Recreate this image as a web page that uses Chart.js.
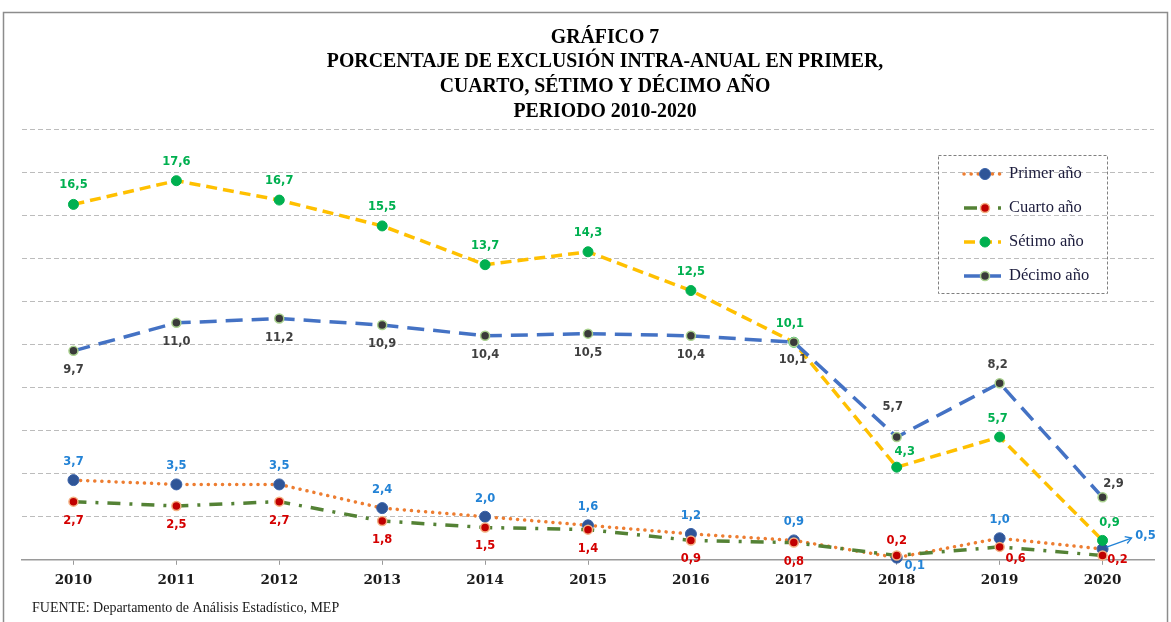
<!DOCTYPE html>
<html lang="es">
<head>
  <meta charset="UTF-8" />
  <title>Gráfico 7</title>
  <script src="https://cdn.jsdelivr.net/npm/chart.js"></script>
  <style>
    html, body {
      margin: 0;
      padding: 0;
      background: #ffffff;
    }
    .wrap {
      width: 1171px;
      height: 622px;
    }
  </style>
</head>
<body>
  <div class="wrap">
    <canvas id="grafico"></canvas>
  </div>

  <script>
    // datos
    const years = ['2010', '2011', '2012', '2013', '2014', '2015', '2016', '2017', '2018', '2019', '2020'];
    const primerAno = [3.7, 3.5, 3.5, 2.4, 2.0, 1.6, 1.2, 0.9, 0.1, 1.0, 0.5];
    const cuartoAno = [2.7, 2.5, 2.7, 1.8, 1.5, 1.4, 0.9, 0.8, 0.2, 0.6, 0.2];
    const setimoAno = [16.5, 17.6, 16.7, 15.5, 13.7, 14.3, 12.5, 10.1, 4.3, 5.7, 0.9];
    const decimoAno = [9.7, 11.0, 11.2, 10.9, 10.4, 10.5, 10.4, 10.1, 5.7, 8.2, 2.9];
    const seriesNames = ['Primer año', 'Cuarto año', 'Sétimo año', 'Décimo año'];

    const titleLines = [
      'GRÁFICO 7',
      'PORCENTAJE DE EXCLUSIÓN INTRA-ANUAL EN PRIMER,',
      'CUARTO, SÉTIMO Y DÉCIMO AÑO',
      'PERIODO 2010-2020'
    ];
    const sourceNote = 'FUENTE: Departamento de Análisis Estadístico, MEP';

    // where each value label sits relative to its point (style only)
    const labelFont = 'bold 11.5px "DejaVu Sans", Verdana, sans-serif';
    const labelStyle = [
      { color: '#2383d6', def: [0, -18], special: { 8: [18, 8], 10: [43, -13, 'arrow'] } },
      { color: '#d40000', def: [0, 19], special: { 8: [0, -14], 9: [16, 12], 10: [15, 5] } },
      { color: '#00b050', def: [0, -19], special: { 7: [-4, -18], 8: [8, -15], 9: [-2, -18], 10: [7, -17] } },
      { color: '#404040', def: [0, 19], special: { 7: [-1, 18], 8: [-4, -30], 9: [-2, -18], 10: [11, -13] } }
    ];

    const fmt = v => v.toFixed(1).replace('.', ',');

    const valueLabels = {
      id: 'valueLabels',
      afterDatasetsDraw(chart) {
        const ctx = chart.ctx;
        ctx.save();
        ctx.font = labelFont;
        ctx.textAlign = 'center';
        ctx.textBaseline = 'middle';
        chart.data.datasets.forEach((ds, i) => {
          const meta = chart.getDatasetMeta(i);
          const st = labelStyle[i];
          meta.data.forEach((pt, j) => {
            const off = st.special[j] || st.def;
            const x = pt.x + off[0];
            const y = pt.y + off[1];
            if (off[2] === 'arrow') {
              ctx.strokeStyle = st.color;
              ctx.lineWidth = 1.3;
              const sx = pt.x + 4, sy = pt.y - 2;
              const ex = x - 14, ey = y + 2;
              ctx.beginPath();
              ctx.moveTo(sx, sy);
              ctx.lineTo(ex, ey);
              ctx.stroke();
              const a = Math.atan2(ey - sy, ex - sx);
              ctx.beginPath();
              ctx.moveTo(ex - 7 * Math.cos(a - 0.55), ey - 7 * Math.sin(a - 0.55));
              ctx.lineTo(ex, ey);
              ctx.lineTo(ex - 7 * Math.cos(a + 0.55), ey - 7 * Math.sin(a + 0.55));
              ctx.stroke();
            }
            ctx.fillStyle = st.color;
            ctx.fillText(fmt(ds.data[j]), x, y);
          });
        });
        ctx.restore();
      }
    };

    // marco exterior, titulo, leyenda y fuente
    const decor = {
      id: 'decor',
      beforeDraw(chart) {
        const ctx = chart.ctx;
        ctx.save();
        ctx.strokeStyle = '#8c8c8c';
        ctx.lineWidth = 1.5;
        ctx.strokeRect(3.5, 12.5, 1164, 640);
        ctx.restore();
      },
      afterDraw(chart) {
        const ctx = chart.ctx;
        ctx.save();
        // titulo (un poco estrecho, como en el original)
        ctx.fillStyle = '#000000';
        ctx.font = 'bold 22px "Liberation Serif", serif';
        ctx.textAlign = 'center';
        ctx.textBaseline = 'middle';
        const tys = [37, 61, 86, 111];
        titleLines.forEach((t, i) => {
          ctx.save();
          ctx.translate(605, tys[i]);
          ctx.scale(0.9, 1);
          ctx.fillText(t, 0, 0);
          ctx.restore();
        });
        // leyenda
        ctx.strokeStyle = '#7f7f7f';
        ctx.lineWidth = 1;
        ctx.setLineDash([3, 2]);
        ctx.strokeRect(938.5, 155.5, 169, 138);
        const rows = [174, 208, 242, 276];
        chart.data.datasets.forEach((ds, i) => {
          const y = rows[i];
          ctx.setLineDash(ds.borderDash);
          ctx.lineCap = ds.borderCapStyle;
          ctx.strokeStyle = ds.borderColor;
          ctx.lineWidth = ds.borderWidth;
          ctx.beginPath();
          ctx.moveTo(964, y);
          ctx.lineTo(1001, y);
          ctx.stroke();
          ctx.setLineDash([]);
          ctx.lineCap = 'butt';
          ctx.beginPath();
          ctx.arc(985, y, ds.pointRadius, 0, Math.PI * 2);
          ctx.fillStyle = ds.pointBackgroundColor;
          ctx.fill();
          ctx.lineWidth = ds.pointBorderWidth;
          ctx.strokeStyle = ds.pointBorderColor;
          ctx.stroke();
          ctx.fillStyle = '#1c1c3c';
          ctx.font = '16.5px "Liberation Serif", serif';
          ctx.textAlign = 'left';
          ctx.textBaseline = 'middle';
          ctx.fillText(ds.label, 1009, y);
        });
        // fuente
        ctx.fillStyle = '#1a1a1a';
        ctx.font = '14px "Liberation Serif", serif';
        ctx.textAlign = 'left';
        ctx.textBaseline = 'middle';
        ctx.fillText(sourceNote, 32, 608);
        ctx.restore();
      }
    };

    function line(label, data, color, dash, cap, ptFill, ptBorder, ptBorderW, r, order) {
      return {
        label,
        data,
        borderColor: color,
        backgroundColor: color,
        borderWidth: 3.5,
        borderDash: dash,
        borderCapStyle: cap,
        tension: 0,
        fill: false,
        pointRadius: r,
        pointHoverRadius: r,
        pointBackgroundColor: ptFill,
        pointBorderColor: ptBorder,
        pointBorderWidth: ptBorderW,
        clip: false,
        order
      };
    }

    new Chart(document.getElementById('grafico'), {
      type: 'line',
      data: {
        labels: years,
        datasets: [
          line(seriesNames[0], primerAno, '#ed7d31', [0.1, 7], 'round', '#2f5597', '#3a62a8', 1, 5.5, 4),
          line(seriesNames[1], cuartoAno, '#548235', [13, 9, 3, 9], 'butt', '#c00000', '#f4b183', 1.5, 4.5, 3),
          line(seriesNames[2], setimoAno, '#ffc000', [11, 6], 'butt', '#00b050', '#00b050', 1, 5, 2),
          line(seriesNames[3], decimoAno, '#4472c4', [17, 9], 'butt', '#3a3a3a', '#a9d18e', 1.5, 4.5, 1)
        ]
      },
      options: {
        responsive: true,
        maintainAspectRatio: false,
        animation: false,
        layout: {
          padding: { left: 22, right: 17, top: 129, bottom: 25 }
        },
        plugins: {
          legend: { display: false },
          tooltip: { enabled: false },
          title: { display: false }
        },
        scales: {
          x: {
            offset: true,
            grid: {
              offset: false,
              drawOnChartArea: false,
              drawTicks: true,
              tickLength: 5,
              color: '#9a9a9a'
            },
            border: { color: '#9a9a9a', width: 1.5 },
            ticks: {
              color: '#1a1a1a',
              padding: 8,
              font: { family: '"DejaVu Serif", serif', size: 13.5, weight: 'bold' }
            }
          },
          y: {
            min: 0,
            max: 20,
            ticks: { display: false, stepSize: 2 },
            grid: { color: '#bcbcbc', drawTicks: false, lineWidth: 1 },
            border: { display: false, dash: [5, 3] }
          }
        }
      },
      plugins: [valueLabels, decor]
    });
  </script>
</body>
</html>
